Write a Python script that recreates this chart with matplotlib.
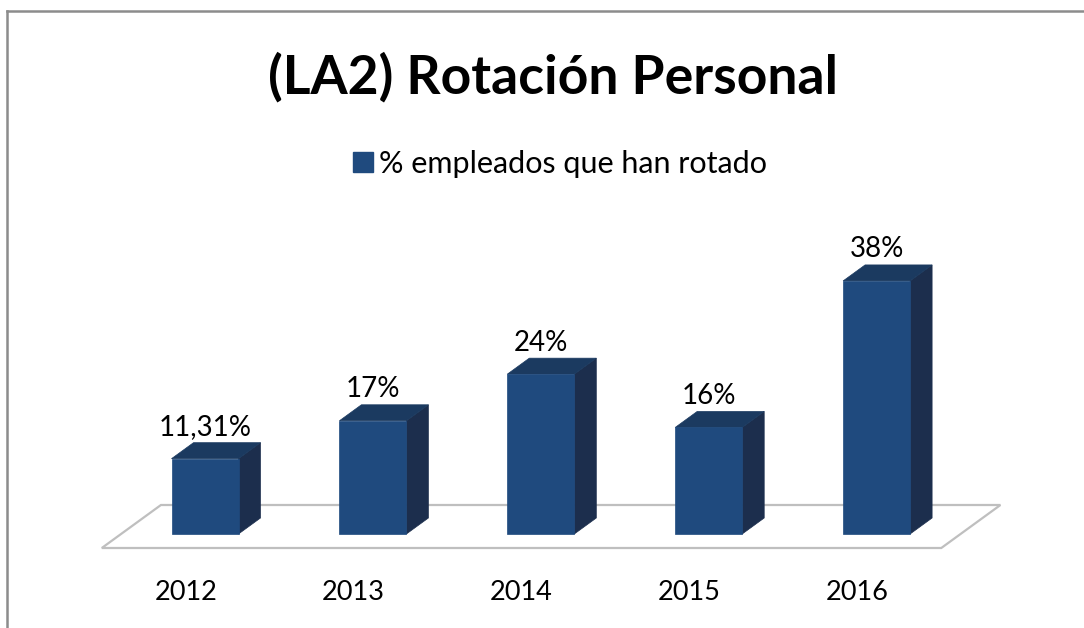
import matplotlib
matplotlib.use("Agg")
import matplotlib.pyplot as plt
from matplotlib.patches import Polygon, Patch
from matplotlib.lines import Line2D

categories = ["2012", "2013", "2014", "2015", "2016"]
values = [11.31, 17, 24, 16, 38]
value_labels = ["11,31%", "17%", "24%", "16%", "38%"]
series_name = "% empleados que han rotado"
title = "(LA2) Rotación Personal"

FRONT = "#1F4A7E"
TOP = "#1B3A60"
SIDE = "#1C2E4D"
FONT = "Lato"

W_PX, H_PX = 1084, 628
fig = plt.figure(figsize=(W_PX / 100, H_PX / 100), dpi=100)
ax = fig.add_axes([0, 0, 1, 1])

# scale: px per category unit and per percent
x0_px, sx = 205.0, 167.9
y0_px, sy = 534.0, 6.66
ax.set_xlim(-x0_px / sx, (W_PX - x0_px) / sx)
ax.set_ylim((y0_px - H_PX) / sy, y0_px / sy)
ax.axis("off")

DX = 22 / sx
DY = 16 / sy
BW = 67 / sx
f_depth, b_depth = -0.875, 1.8125

n = len(categories)
# floor
floor = Polygon([(-0.5 + f_depth * DX, f_depth * DY),
                 (n - 0.5 + f_depth * DX, f_depth * DY),
                 (n - 0.5 + b_depth * DX, b_depth * DY),
                 (-0.5 + b_depth * DX, b_depth * DY)],
                closed=True, facecolor="white", edgecolor="#BFBFBF",
                linewidth=1.6, zorder=1)
ax.add_patch(floor)

for i, v in enumerate(values):
    l, r = i - BW / 2, i + BW / 2
    front = Polygon([(l, 0), (r, 0), (r, v), (l, v)], closed=True,
                    facecolor=FRONT, edgecolor=FRONT, linewidth=0.5, zorder=3)
    top = Polygon([(l, v), (r, v), (r + DX, v + DY), (l + DX, v + DY)], closed=True,
                  facecolor=TOP, edgecolor=TOP, linewidth=0.5, zorder=3)
    side = Polygon([(r, 0), (r + DX, DY), (r + DX, v + DY), (r, v)], closed=True,
                   facecolor=SIDE, edgecolor=SIDE, linewidth=0.5, zorder=3)
    for p in (side, top, front):
        ax.add_patch(p)
    ax.annotate(value_labels[i], xy=(i, v + DY), xytext=(0, 5.5),
                textcoords="offset points", ha="center", va="baseline",
                fontsize=20, family=FONT, color="black", zorder=4)
    ax.text(i + f_depth * DX, (y0_px - 593) / sy, categories[i],
            ha="center", va="center", fontsize=19.5, family=FONT, color="black")

fig.text(553 / W_PX, 1 - 93 / H_PX, title, ha="center", va="baseline",
         fontsize=38.5, fontweight="bold", family=FONT, color="black")

handle = Patch(facecolor=FRONT, edgecolor=FRONT)
fig.legend([handle], [series_name], loc="center",
           bbox_to_anchor=(560 / W_PX, 1 - 164 / H_PX), frameon=False,
           prop={"family": FONT, "size": 22}, handlelength=0.65,
           handleheight=0.65, handletextpad=0.2, borderpad=0, borderaxespad=0)

# outer frame (top and left edges visible)
fig.add_artist(Line2D([7 / W_PX, 7 / W_PX], [0, 1 - 11 / H_PX], transform=fig.transFigure,
                      color="#8C8C8C", linewidth=1.8))
fig.add_artist(Line2D([7 / W_PX, 1], [1 - 11 / H_PX, 1 - 11 / H_PX], transform=fig.transFigure,
                      color="#8C8C8C", linewidth=1.8))

fig.savefig("out.png", dpi=100, facecolor="white")
